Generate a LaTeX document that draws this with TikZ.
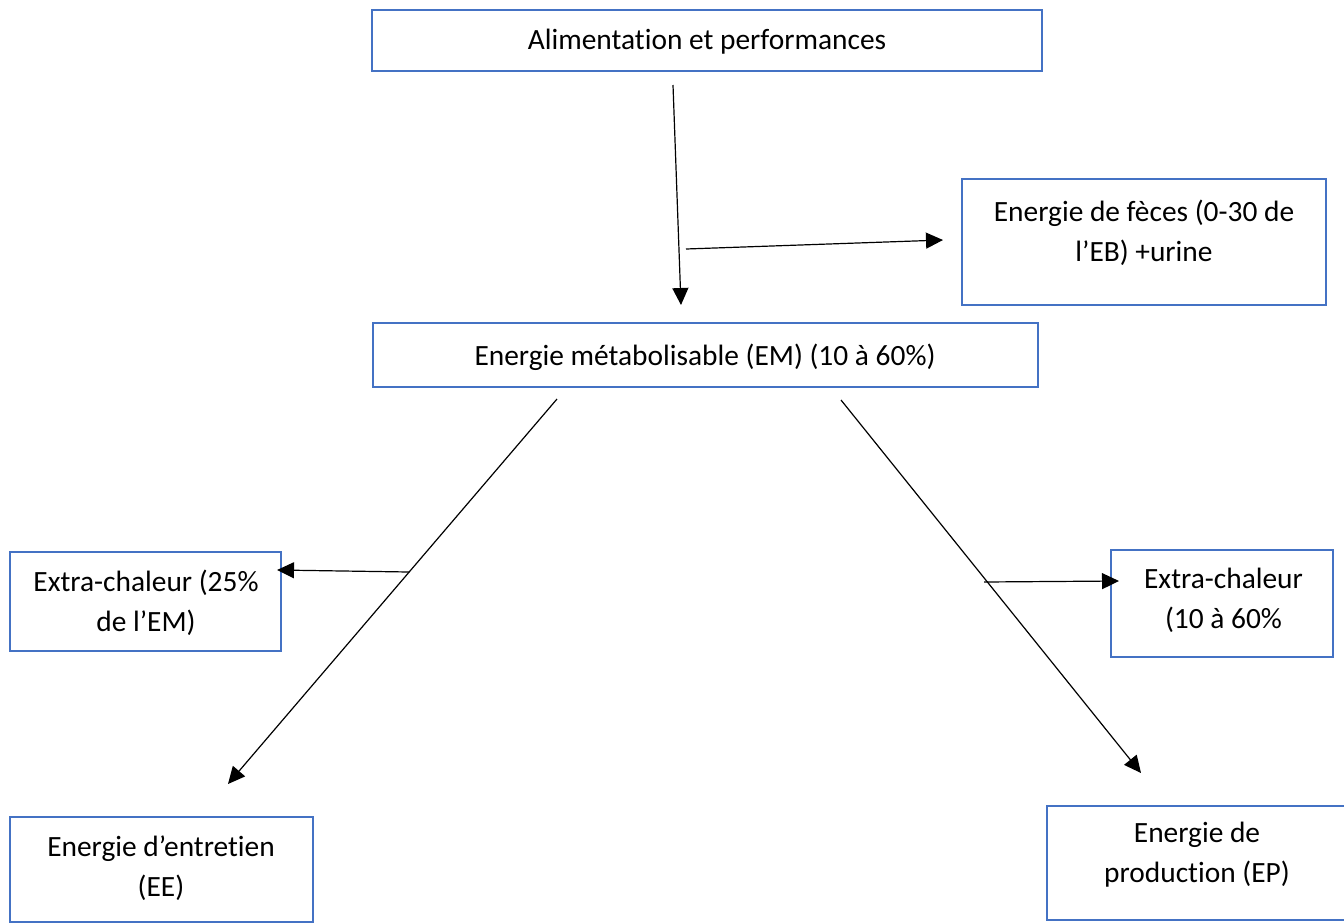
\documentclass[tikz,border=0pt]{standalone}
\usepackage{fontspec}
\setmainfont{Carlito}[Ligatures={TeX,NoCommon}]
\usetikzlibrary{arrows.meta}
\definecolor{boxblue}{HTML}{4472C4}

\begin{document}
\begin{tikzpicture}[x=0.5pt, y=-0.5pt, line width=0.6pt,
  box/.style={draw=boxblue, line width=1.3pt, inner sep=0pt},
  txt/.style={align=center, font=\fontsize{14.7}{20}\selectfont},
  fleche/.style={-{Triangle[length=8.5pt,width=8pt]}}]

\useasboundingbox (0,0) rectangle (1344,922);

\node [box, minimum width=335pt, minimum height=30.5pt] (alim) at (707,40.5) {};
\node [txt] (alimtxt) at (707,42) {Alimentation et performances};

\node [box, minimum width=182pt, minimum height=63pt] (feces) at (1144,242) {};
\node [txt] (fecestxt) at (1144,233) {Energie de fèces (0-30 de\\l’EB) +urine};

\node [box, minimum width=332.5pt, minimum height=32pt] (em) at (705.5,355) {};
\node [txt] (emtxt) at (705,357) {Energie métabolisable (EM) (10 à 60\%)};

\node [box, minimum width=135.5pt, minimum height=49.5pt] (chalG) at (145.5,601.5) {};
\node [txt] (chalGtxt) at (146,603) {Extra-chaleur (25\%\\de l’EM)};

\node [box, minimum width=111pt, minimum height=53.5pt] (chalD) at (1222,603.5) {};
\node [txt] (chalDtxt) at (1223.5,600) {Extra-chaleur\\(10 à 60\%};

\node [box, minimum width=151.5pt, minimum height=52.5pt] (entretien) at (161.5,869.5) {};
\node [txt] (entretientxt) at (161,868) {Energie d’entretien\\(EE)};

\node [box, minimum width=170pt, minimum height=57pt] (production) at (1217,863) {};
\node [txt] (productiontxt) at (1197,855) {Energie de\\production (EP)};

\coordinate (haut) at (673,85);
\coordinate (versem) at (681,305);
\coordinate (departfec) at (686,249);
\coordinate (versfec) at (943,240);

\coordinate (gdepart) at (557,399);
\coordinate (gfin) at (228,784);
\coordinate (gbranche) at (409,572);
\coordinate (gchal) at (277,570);

\coordinate (ddepart) at (841,400);
\coordinate (dfin) at (1141,773);
\coordinate (dbranche) at (984,582);
\coordinate (dchal) at (1119,581);

\draw [fleche] (haut)--(versem);
\draw [fleche] (departfec)--(versfec);

\draw [fleche] (gdepart)--(gfin);
\draw [fleche] (gbranche)--(gchal);

\draw [fleche] (ddepart)--(dfin);
\draw [fleche] (dbranche)--(dchal);

\end{tikzpicture}
\end{document}
